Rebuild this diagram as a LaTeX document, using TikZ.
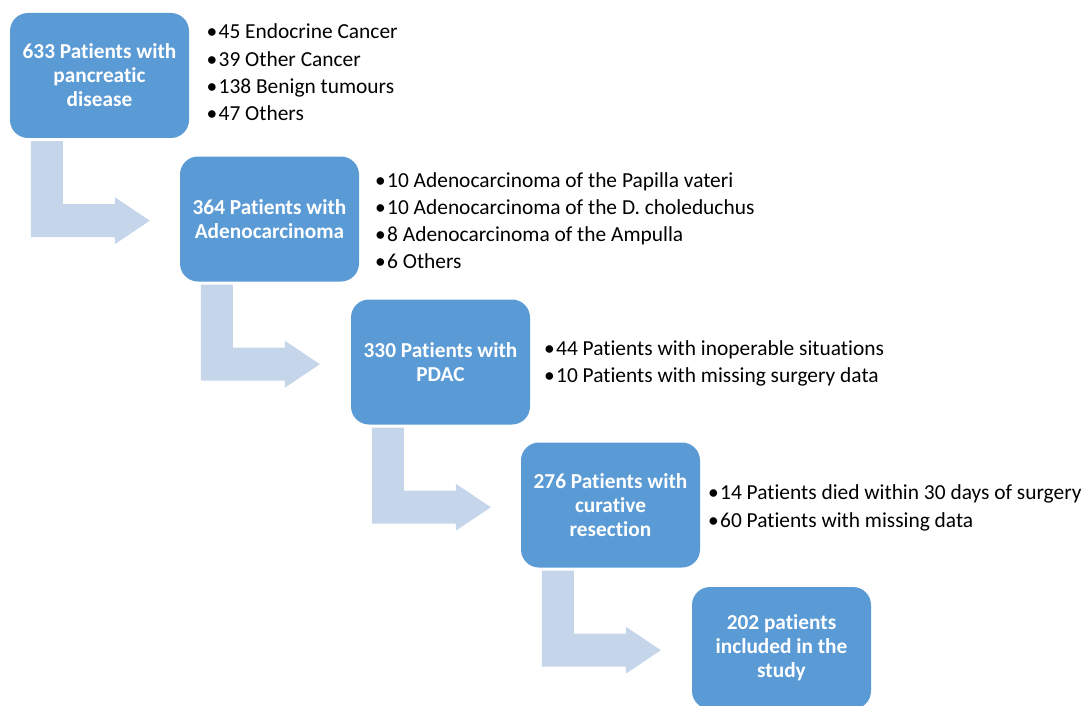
\documentclass[tikz,border=0pt]{standalone}
\usepackage{fontspec}
\setmainfont[Ligatures=NoCommon]{Carlito}
\usetikzlibrary{calc}
\definecolor{boxblue}{HTML}{5B9BD5}
\definecolor{arrowblue}{HTML}{C5D5EA}
\newcommand\bul{\makebox[10.5pt][l]{\hspace{-1.5pt}•}}
\begin{document}
\begin{tikzpicture}[x=1pt,y=-1pt,
  stepbox/.style={fill=boxblue, rounded corners=18pt, minimum width=179pt, minimum height=125pt, inner sep=0pt, text=white, font=\fontsize{21.3}{24}\selectfont\bfseries, align=center},
  item/.style={anchor=base west, inner sep=0pt, font=\fontsize{21.4}{25}\selectfont},
  flowarrow/.style={fill=arrowblue}]
\useasboundingbox (0,0) rectangle (1084,706);
% boxes
\node[stepbox] (b1) at (99.5,75.5) {633 Patients with\\pancreatic\\disease};
\node[stepbox] (b2) at (269.5,219) {364 Patients with\\Adenocarcinoma};
\node[stepbox] (b3) at (440.5,362) {330 Patients with\\PDAC};
\node[stepbox] (b4) at (610.5,505) {276 Patients with\\curative\\resection};
\node[stepbox, minimum height=122pt] (b5) at (781.5,648) {202 patients\\included in the\\study};
% block arrows
\foreach \a/\b in {b1/b2,b2/b3,b3/b4,b4/b5}{
  \begin{scope}[shift={(\a.south west)}]
    \fill[flowarrow] (21,3) -- (53,3) -- (53,66) -- (105,66) -- (105,59)
      -- (140,82.5) -- (105,106) -- (105,99) -- (21,99) -- cycle;
  \end{scope}
}
% lists
\foreach \t [count=\i] in {45 Endocrine Cancer, 39 Other Cancer, 138 Benign tumours, 47 Others}
  \node[item] (l1-\i) at (208, {39+27.3*(\i-1)}) {\bul\t};
\foreach \t [count=\i] in {10 Adenocarcinoma of the Papilla vateri, 10 Adenocarcinoma of the D. choleduchus, 8 Adenocarcinoma of the Ampulla, 6 Others}
  \node[item] (l2-\i) at (376.5, {187+27.3*(\i-1)}) {\bul\t};
\foreach \t [count=\i] in {44 Patients with inoperable situations, 10 Patients with missing surgery data}
  \node[item] (l3-\i) at (545.5, {355+27.8*(\i-1)}) {\bul\t};
\foreach \t [count=\i] in {14 Patients died within 30 days of surgery, 60 Patients with missing data}
  \node[item] (l4-\i) at (709.5, {499+28*(\i-1)}) {\bul\t};
\end{tikzpicture}
\end{document}
